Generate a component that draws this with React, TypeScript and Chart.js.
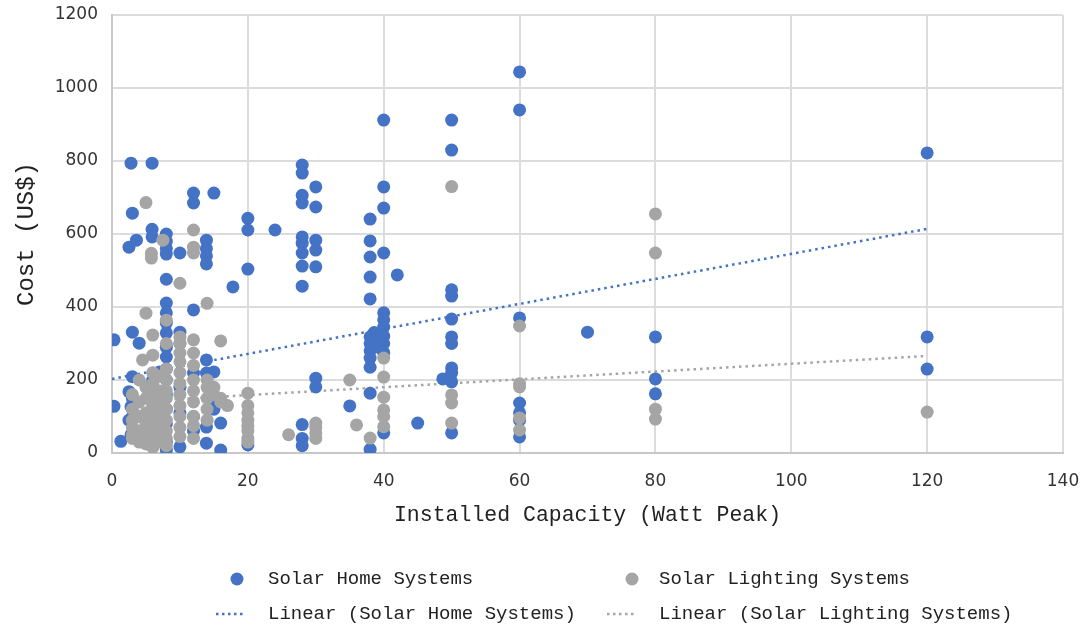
import React, { useEffect, useRef } from "react";
import { Chart, registerables } from "chart.js";

Chart.register(...registerables);

// Solar Home Systems: [capacity (Wp), cost (US$)]
const homePoints: [number, number][] = [
  [0.3, 310], [0.3, 128], [1.3, 32],
  [2.5, 564], [2.5, 168], [2.5, 90],
  [2.8, 794], [2.8, 127], [2.8, 50],
  [3, 657], [3, 331], [3, 209], [3, 150], [3, 100],
  [3.6, 583], [4, 301],
  [5.9, 794], [5.9, 613], [5.9, 592],
  [6, 200], [6, 170], [6, 60], [6, 40],
  [7, 222], [7, 140],
  [8, 600], [8, 580], [8, 560], [8, 545], [8, 476], [8, 411], [8, 384], [8, 356], [8, 329],
  [8, 290], [8, 263], [8, 230], [8, 200], [8, 160], [8, 120], [8, 80], [8, 30], [8, 8],
  [10, 548], [10, 331], [10, 300], [10, 180], [10, 110], [10, 17],
  [12, 712], [12, 685], [12, 392], [12, 219], [12, 100], [12, 60],
  [13.9, 583], [13.9, 560], [13.9, 540], [13.9, 518], [13.9, 255], [13.9, 219], [13.9, 71], [13.9, 27],
  [14.4, 145],
  [15, 712], [15, 222], [15, 120],
  [16, 82], [16, 8],
  [17.8, 455],
  [20, 643], [20, 611], [20, 504], [20, 22],
  [24, 611],
  [28, 789], [28, 767], [28, 706], [28, 685], [28, 592], [28, 575], [28, 548], [28, 512],
  [28, 457], [28, 78], [28, 40], [28, 20],
  [30, 729], [30, 674], [30, 583], [30, 556], [30, 510], [30, 205], [30, 181],
  [35, 129],
  [38, 641], [38, 581], [38, 537], [38, 482], [38, 422], [38, 318], [38, 300], [38, 280],
  [38, 260], [38, 235], [38, 164], [38, 10],
  [38.6, 330], [39, 310], [39.3, 290],
  [40, 912], [40, 729], [40, 671], [40, 548], [40, 384], [40, 365], [40, 345], [40, 320],
  [40, 300], [40, 275], [40, 55],
  [42, 488], [45, 82], [48.7, 203],
  [50, 912], [50, 830], [50, 447], [50, 430], [50, 367], [50, 318], [50, 300], [50, 233],
  [50, 219], [50, 195], [50, 55],
  [60, 1044], [60, 940], [60, 370], [60, 137], [60, 110], [60, 90], [60, 44],
  [70, 331],
  [80, 318], [80, 203], [80, 162],
  [120, 822], [120, 318], [120, 230],
];

// Solar Lighting Systems: [capacity (Wp), cost (US$)]
const lightingPoints: [number, number][] = [
  [5, 686], [7.5, 583], [5.8, 547], [5.8, 534], [10, 465], [12, 611], [12, 564], [12, 548],
  [14, 410], [5, 383], [8, 364], [6, 323], [16, 307], [10, 318], [10, 300], [10, 274],
  [12, 310], [12, 274], [4.5, 255], [6, 268], [8, 300],
  [3, 160], [3, 120], [3, 90], [3, 70], [3, 50], [3, 40],
  [4, 200], [4, 140], [4, 100], [4, 60], [4, 30],
  [5, 180], [5, 150], [5, 110], [5, 80], [5, 50], [5, 25],
  [6, 220], [6, 190], [6, 160], [6, 130], [6, 100], [6, 70], [6, 40], [6, 15],
  [7, 210], [7, 170], [7, 140], [7, 110], [7, 80], [7, 55], [7, 30],
  [8, 230], [8, 200], [8, 170], [8, 150], [8, 120], [8, 90], [8, 60], [8, 40], [8, 20],
  [10, 250], [10, 220], [10, 190], [10, 160], [10, 130], [10, 100], [10, 70], [10, 45],
  [12, 240], [12, 200], [12, 170], [12, 140], [12, 100], [12, 75], [12, 40],
  [14, 200], [14, 180], [14, 150], [14, 120], [14, 90],
  [15, 180], [15, 160], [16, 150], [16, 140], [17, 130],
  [20, 164], [20, 130], [20, 110], [20, 90], [20, 75], [20, 60], [20, 40], [20, 30],
  [26, 50],
  [30, 82], [30, 70], [30, 55], [30, 40],
  [35, 200], [36, 77], [38, 41],
  [40, 260], [40, 208], [40, 153], [40, 118], [40, 100], [40, 72],
  [50, 730], [50, 159], [50, 137], [50, 82],
  [60, 348], [60, 190], [60, 181], [60, 96], [60, 63],
  [80, 655], [80, 548], [80, 120], [80, 93],
  [120, 112],
];

// Linear trendline end points
const homeTrendX = [0, 120];
const homeTrendY = [203, 614];
const lightingTrendX = [2.5, 120];
const lightingTrendY = [140, 266];

const seriesNames = ["Solar Home Systems", "Solar Lighting Systems"];
const trendNames = ["Linear (Solar Home Systems)", "Linear (Solar Lighting Systems)"];

const BLUE = "#4472C4";
const GRAY = "#A5A5A5";

const toXY = (pts: [number, number][]) => pts.map(([x, y]) => ({ x, y }));
const zipXY = (xs: number[], ys: number[]) => xs.map((x, i) => ({ x, y: ys[i] }));

const legendPlugin = {
  id: "customLegend",
  afterDraw(chart: any) {
    const ctx = chart.ctx as CanvasRenderingContext2D;
    ctx.save();
    ctx.font = '19px "Liberation Mono", monospace';
    ctx.textBaseline = "middle";
    ctx.textAlign = "left";

    const r1 = 579;
    const r2 = 614;
    ctx.fillStyle = BLUE;
    ctx.beginPath();
    ctx.arc(237, r1, 6.5, 0, Math.PI * 2);
    ctx.fill();
    ctx.fillStyle = GRAY;
    ctx.beginPath();
    ctx.arc(632, r1, 6.5, 0, Math.PI * 2);
    ctx.fill();

    ctx.lineWidth = 2.5;
    ctx.setLineDash([2.5, 3.5]);
    ctx.strokeStyle = BLUE;
    ctx.beginPath();
    ctx.moveTo(216, r2);
    ctx.lineTo(246, r2);
    ctx.stroke();
    ctx.strokeStyle = GRAY;
    ctx.beginPath();
    ctx.moveTo(607, r2);
    ctx.lineTo(637, r2);
    ctx.stroke();
    ctx.setLineDash([]);

    ctx.fillStyle = "#222";
    ctx.fillText(seriesNames[0], 268, r1);
    ctx.fillText(seriesNames[1], 659, r1);
    ctx.fillText(trendNames[0], 268, r2);
    ctx.fillText(trendNames[1], 659, r2);
    ctx.restore();
  },
};

export default function App() {
  const ref = useRef<HTMLCanvasElement | null>(null);

  useEffect(() => {
    if (!ref.current) return;
    const chart = new Chart(ref.current, {
      type: "scatter",
      data: {
        datasets: [
          {
            label: seriesNames[1],
            data: toXY(lightingPoints),
            backgroundColor: GRAY,
            borderColor: GRAY,
            borderWidth: 0,
            pointRadius: 6.5,
            order: 0,
          },
          {
            label: seriesNames[0],
            data: toXY(homePoints),
            backgroundColor: BLUE,
            borderColor: BLUE,
            borderWidth: 0,
            pointRadius: 6.5,
            order: 1,
          },
          {
            type: "line",
            label: trendNames[0],
            data: zipXY(homeTrendX, homeTrendY),
            borderColor: BLUE,
            borderWidth: 2.5,
            borderDash: [2.5, 4],
            pointRadius: 0,
            fill: false,
            showLine: true,
            order: 2,
          } as any,
          {
            type: "line",
            label: trendNames[1],
            data: zipXY(lightingTrendX, lightingTrendY),
            borderColor: GRAY,
            borderWidth: 2.5,
            borderDash: [2.5, 4],
            pointRadius: 0,
            fill: false,
            showLine: true,
            order: 3,
          } as any,
        ],
      },
      options: {
        responsive: false,
        animation: false,
        layout: { padding: { top: 15, right: 26, bottom: 98, left: 0 } },
        plugins: {
          legend: { display: false },
          tooltip: { enabled: false },
        },
        scales: {
          x: {
            type: "linear",
            min: 0,
            max: 140,
            ticks: {
              stepSize: 20,
              padding: 18,
              color: "#333",
              font: { family: '"DejaVu Sans", sans-serif', size: 17 },
              callback: (v: any) => String(v),
            },
            grid: { color: "#dcdcdc", lineWidth: 2, drawTicks: false },
            border: { color: "#c8c8c8", width: 2 },
            title: {
              display: true,
              text: "Installed Capacity (Watt Peak)",
              color: "#222",
              font: { family: '"Liberation Mono", monospace', size: 21.5 },
              padding: { top: 0, bottom: 5 },
            },
            afterFit: (s: any) => {
              s.height = 80;
              s.paddingLeft = 0;
              s.paddingRight = 0;
            },
          },
          y: {
            type: "linear",
            min: 0,
            max: 1200,
            ticks: {
              stepSize: 200,
              padding: 14,
              color: "#333",
              font: { family: '"DejaVu Sans", sans-serif', size: 17 },
              callback: (v: any) => String(v),
            },
            grid: { color: "#dcdcdc", lineWidth: 2, drawTicks: false },
            border: { color: "#c8c8c8", width: 2 },
            title: {
              display: true,
              text: "Cost (US$)",
              color: "#222",
              font: { family: '"Liberation Mono", monospace', size: 24 },
              padding: { top: 12, bottom: 0 },
            },
            afterFit: (s: any) => {
              s.width = 112;
              s.paddingTop = 0;
              s.paddingBottom = 0;
            },
          },
        },
      },
      plugins: [legendPlugin],
    });
    return () => chart.destroy();
  }, []);

  return (
    <div style={{ position: "fixed", left: 0, top: 0, width: 1089, height: 631, background: "#fff" }}>
      <canvas ref={ref} width={1089} height={631} style={{ width: 1089, height: 631, display: "block" }} />
    </div>
  );
}
